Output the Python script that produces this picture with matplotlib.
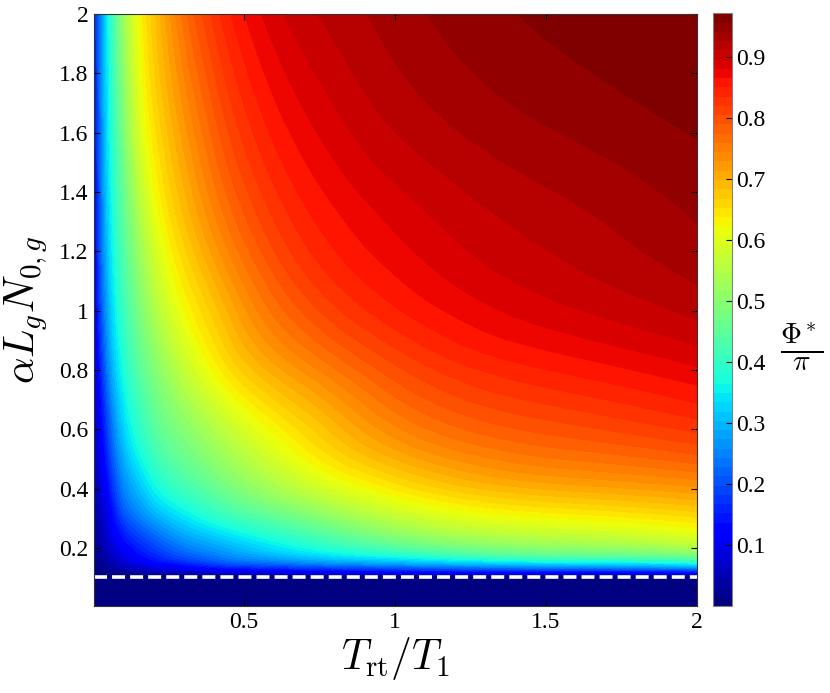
import numpy as np
import matplotlib
matplotlib.use("Agg")
import matplotlib.pyplot as plt
import matplotlib.tri as mtri

plt.rcParams['font.family'] = 'Liberation Serif'
plt.rcParams['mathtext.fontset'] = 'cm'

# T_rt/T_1 sample positions and alpha*L_g*N_0,g sample positions
x_vals = [0.005, 0.025, 0.05, 0.1, 0.15, 0.2, 0.3, 0.4, 0.5, 0.75, 1.0, 1.5, 2.0]
y_vals = [0.104, 0.12, 0.15, 0.2, 0.3, 0.4, 0.6, 0.8, 1.0, 1.3, 1.6, 2.0]

# Phi*/pi, one row per y value
phi = [
    [0.0,   0.0,   0.0,   0.0,   0.0,   0.0,   0.0,   0.0,   0.0,   0.0,   0.0,   0.0,   0.0],
    [0.005, 0.01,  0.015, 0.025, 0.035, 0.045, 0.06,  0.075, 0.085, 0.105, 0.12,  0.135, 0.145],
    [0.012, 0.02,  0.035, 0.07,  0.095, 0.12,  0.155, 0.19,  0.215, 0.255, 0.285, 0.335, 0.37],
    [0.02,  0.035, 0.06,  0.11,  0.15,  0.18,  0.235, 0.27,  0.305, 0.375, 0.43,  0.50,  0.54],
    [0.03,  0.055, 0.09,  0.185, 0.235, 0.275, 0.335, 0.38,  0.415, 0.49,  0.56,  0.62,  0.65],
    [0.04,  0.075, 0.125, 0.24,  0.30,  0.35,  0.41,  0.455, 0.495, 0.58,  0.64,  0.70,  0.725],
    [0.055, 0.11,  0.185, 0.315, 0.385, 0.435, 0.495, 0.545, 0.59,  0.675, 0.74,  0.795, 0.824],
    [0.07,  0.145, 0.24,  0.365, 0.435, 0.485, 0.565, 0.625, 0.672, 0.745, 0.80,  0.85,  0.878],
    [0.085, 0.18,  0.28,  0.40,  0.475, 0.535, 0.62,  0.675, 0.725, 0.805, 0.848, 0.89,  0.916],
    [0.10,  0.208, 0.315, 0.44,  0.528, 0.597, 0.68,  0.738, 0.785, 0.853, 0.884, 0.918, 0.942],
    [0.115, 0.225, 0.335, 0.475, 0.58,  0.643, 0.72,  0.78,  0.825, 0.882, 0.911, 0.94,  0.958],
    [0.13,  0.24,  0.35,  0.51,  0.615, 0.675, 0.765, 0.825, 0.865, 0.912, 0.934, 0.96,  0.972],
]

threshold = 0.104
y_min = 0.005
phi_max = 0.972

Z = np.array(phi)
# triangulate in sqrt-stretched coordinates so the grid cells are near uniform
S, T = np.meshgrid(np.sqrt(x_vals), np.sqrt(np.array(y_vals) - threshold))

cmap = plt.get_cmap('jet', 64)
levels = np.linspace(0, phi_max, 65)

fig = plt.figure(figsize=(8.3, 6.93), dpi=100)
ax = fig.add_axes([0.1133, 0.1255, 0.7265, 0.8543])
cax = fig.add_axes([0.8587, 0.1255, 0.0236, 0.8553])

tri = mtri.Triangulation(S.ravel(), T.ravel())
refiner = mtri.UniformTriRefiner(tri)
tri_f, z_f = refiner.refine_field(Z.ravel(), subdiv=4)
z_f = np.clip(z_f, 0, phi_max)
tri_xy = mtri.Triangulation(tri_f.x ** 2, tri_f.y ** 2 + threshold, tri_f.triangles)
cs = ax.tricontourf(tri_xy, z_f, levels=levels, cmap=cmap)

# region below threshold
ax.contourf([x_vals[0], x_vals[-1]], [y_min, threshold], np.zeros((2, 2)),
            levels=levels, cmap=cmap)

ax.axhline(threshold, color='white', ls='--', lw=2.6, dashes=(3.6, 1.4))

ax.set_xlim(x_vals[0], x_vals[-1])
ax.set_ylim(y_min, 2)
ax.set_xticks([0.5, 1, 1.5, 2])
ax.set_xticklabels(['0.5', '1', '1.5', '2'])
yt = [0.2, 0.4, 0.6, 0.8, 1, 1.2, 1.4, 1.6, 1.8, 2]
ax.set_yticks(yt)
ax.set_yticklabels(['%g' % v for v in yt])
ax.tick_params(direction='in', length=4, width=0.8, labelsize=17,
               top=True, right=True, pad=4)
for s in ax.spines.values():
    s.set_linewidth(0.8)
    s.set_color('0.2')

ax.set_xlabel(r'$T_{\rm rt}/T_1$', fontsize=30, labelpad=2)
ax.set_ylabel(r'$\alpha L_g N_{0,g}$', fontsize=30, labelpad=7)

cb = fig.colorbar(cs, cax=cax, ticks=[0.1, 0.2, 0.3, 0.4, 0.5, 0.6, 0.7, 0.8, 0.9])
cb.ax.tick_params(direction='in', length=4, width=0.8, labelsize=17, pad=3)
cb.outline.set_linewidth(0.8)
cb.outline.set_edgecolor('0.5')
fig.text(0.966, 0.5, r'$\frac{\Phi^*}{\pi}$', fontsize=30, ha='center', va='center')

fig.savefig('out.png', dpi=100)
